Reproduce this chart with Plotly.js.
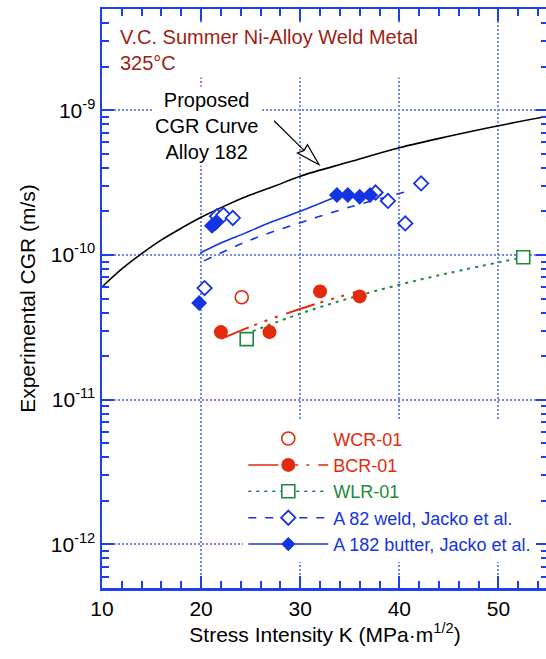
<!DOCTYPE html>
<html>
<head>
<meta charset="utf-8">
<script src="https://cdn.plot.ly/plotly-3.0.1.min.js"></script>
<style>
  html, body { margin: 0; padding: 0; overflow: hidden; background: #ffffff; }
  #chart { width: 548px; height: 659px; }
</style>
</head>
<body>
<div id="chart"></div>
<script>
// Proposed CGR curve for Alloy 182
const curveK   = [10, 12, 14, 16, 18, 20, 22.5, 25, 27.5, 30, 35, 40, 45, 50, 55];
const curveCGR = [6.0e-11, 8.0e-11, 1.02e-10, 1.27e-10, 1.53e-10, 1.82e-10, 2.2e-10,
                  2.6e-10, 3.0e-10, 3.5e-10, 4.4e-10, 5.5e-10, 6.6e-10, 7.8e-10, 9.1e-10];

// WCR-01
const wcrK   = [24.1];
const wcrCGR = [5.1e-11];

// BCR-01 tests and fit
const bcrK      = [22.0, 26.9, 32.0, 36.0];
const bcrCGR    = [2.93e-11, 2.93e-11, 5.6e-11, 5.17e-11];
const bcrFitK   = [22.0, 25.0, 28.0, 31.0, 34.0, 36.0];
const bcrFitCGR = [2.63e-11, 3.2e-11, 3.81e-11, 4.46e-11, 5.15e-11, 5.63e-11];

// WLR-01 tests and fit
const wlrK      = [24.6, 52.5];
const wlrCGR    = [2.62e-11, 9.64e-11];
const wlrFitK   = [25.2, 30, 35, 40, 45, 52.0];
const wlrFitCGR = [2.97e-11, 3.93e-11, 5.03e-11, 6.22e-11, 7.5e-11, 9.48e-11];

// Alloy 82 weld, Jacko et al.
const a82K      = [20.35, 21.6, 22.25, 23.2, 37.6, 38.85, 40.6, 42.2];
const a82CGR    = [5.9e-11, 1.85e-10, 1.89e-10, 1.8e-10, 2.7e-10, 2.36e-10, 1.65e-10, 3.12e-10];
const a82FitK   = [20.3, 25, 30, 35, 41];
const a82FitCGR = [9.1e-11, 1.27e-10, 1.67e-10, 2.14e-10, 2.77e-10];

// Alloy 182 butter, Jacko et al.
const a182K      = [19.8, 21.1, 21.45, 33.7, 34.8, 36.0, 37.05];
const a182CGR    = [4.65e-11, 1.59e-10, 1.66e-10, 2.59e-10, 2.59e-10, 2.52e-10, 2.59e-10];
const a182FitK   = [19.9, 22, 24.5, 27, 30, 34];
const a182FitCGR = [1.03e-10, 1.21e-10, 1.42e-10, 1.68e-10, 2.0e-10, 2.58e-10];

// Axis ticks
const xTicks     = [10, 20, 30, 40, 50];
const yTickVals  = [1e-12, 1e-11, 1e-10, 1e-9];
const yTickText  = ['10<sup>-12</sup>', '10<sup>-11</sup>', '10<sup>-10</sup>', '10<sup>-9</sup>'];

const RED = '#e42a0c', GREEN = '#1d8a3e', BLUE = '#1434e4', FRAME = '#1c3ff2', GRID = '#7389f0';
const bcrDash = '30px,6px,3px,8px,3px,8px,3px,9px';
const wlrDash = '3px,5px';
const a82Dash = '8px,9px';

const traces = [
  { x: curveK, y: curveCGR, mode: 'lines', line: { color: '#000', width: 1.6, shape: 'spline' }, showlegend: false },
  { x: bcrFitK, y: bcrFitCGR, mode: 'lines', line: { color: RED, width: 2, dash: bcrDash, shape: 'spline' }, showlegend: false },
  { x: wlrFitK, y: wlrFitCGR, mode: 'lines', line: { color: GREEN, width: 2, dash: wlrDash, shape: 'spline' }, showlegend: false },
  { x: a82FitK, y: a82FitCGR, mode: 'lines', line: { color: BLUE, width: 1.6, dash: a82Dash, shape: 'spline' }, showlegend: false },
  { x: a182FitK, y: a182FitCGR, mode: 'lines', line: { color: BLUE, width: 1.6, shape: 'spline' }, showlegend: false },
  { x: wcrK, y: wcrCGR, mode: 'markers', marker: { symbol: 'circle-open', size: 13, color: RED, line: { width: 1.6 } }, showlegend: false },
  { x: bcrK, y: bcrCGR, mode: 'markers', marker: { symbol: 'circle', size: 14, color: RED }, showlegend: false },
  { x: wlrK, y: wlrCGR, mode: 'markers', marker: { symbol: 'square', size: 13, color: '#fff', line: { color: GREEN, width: 1.6 } }, showlegend: false },
  { x: a82K, y: a82CGR, mode: 'markers', marker: { symbol: 'diamond', size: 11, color: '#fff', line: { color: BLUE, width: 1.8 } }, showlegend: false },
  { x: a182K, y: a182CGR, mode: 'markers', marker: { symbol: 'diamond', size: 11, color: BLUE, line: { color: BLUE, width: 1.2 } }, showlegend: false },

  // legend entries
  { x: [null], y: [null], mode: 'markers', name: '<span style="color:' + RED + '">WCR-01</span>',
    marker: { symbol: 'circle-open', size: 13, color: RED, line: { width: 1.6 } } },
  { x: [null], y: [null], mode: 'lines+markers', name: '<span style="color:' + RED + '">BCR-01</span>',
    line: { color: RED, width: 1.5, dash: bcrDash }, marker: { symbol: 'circle', size: 14, color: RED } },
  { x: [null], y: [null], mode: 'lines+markers', name: '<span style="color:' + GREEN + '">WLR-01</span>',
    line: { color: GREEN, width: 1.5, dash: wlrDash }, marker: { symbol: 'square', size: 13, color: '#fff', line: { color: GREEN, width: 1.6 } } },
  { x: [null], y: [null], mode: 'lines+markers', name: '<span style="color:' + BLUE + '">A 82 weld, Jacko et al.</span>',
    line: { color: BLUE, width: 1.5, dash: a82Dash }, marker: { symbol: 'diamond', size: 11, color: '#fff', line: { color: BLUE, width: 1.8 } } },
  { x: [null], y: [null], mode: 'lines+markers', name: '<span style="color:' + BLUE + '">A 182 butter, Jacko et al.</span>',
    line: { color: BLUE, width: 1.5 }, marker: { symbol: 'diamond', size: 11, color: BLUE } }
];

const layout = {
  width: 548, height: 659,
  margin: { l: 102, r: 0, t: 9, b: 71 },
  paper_bgcolor: '#fff', plot_bgcolor: '#fff',
  font: { family: 'Liberation Sans, Arial, sans-serif', size: 21, color: '#000' },
  showlegend: true,
  legend: {
    x: 0.3168, y: 0.2896, xanchor: 'left', yanchor: 'top',
    bgcolor: '#fff', borderwidth: 0, itemwidth: 80,
    font: { size: 18 }, tracegroupgap: 0
  },
  xaxis: {
    range: [10, 55], tickmode: 'array', tickvals: xTicks,
    ticks: 'inside', ticklen: 12, tickwidth: 2, tickcolor: FRAME,
    showline: true, linecolor: FRAME, linewidth: 2.5, mirror: 'ticks',
    showgrid: true, gridcolor: GRID, gridwidth: 2, griddash: '2px,2px', zeroline: false,
    minor: { ticks: 'inside', ticklen: 7, tickwidth: 2, tickcolor: FRAME, dtick: 2, tick0: 10, showgrid: false },
    tickfont: { size: 21 },
    title: { text: 'Stress Intensity K (MPa·m<sup>1/2</sup>)', font: { size: 21 }, standoff: 8 }
  },
  yaxis: {
    type: 'log', range: [-12.30103, -8.30103],
    tickmode: 'array', tickvals: yTickVals, ticktext: yTickText,
    ticks: 'inside', ticklen: 12, tickwidth: 2, tickcolor: FRAME,
    showline: true, linecolor: FRAME, linewidth: 2.5, mirror: 'ticks',
    showgrid: true, gridcolor: GRID, gridwidth: 2, griddash: '2px,2px', zeroline: false,
    minor: { tickmode: 'linear', dtick: 'D1', ticks: 'inside', ticklen: 7, tickwidth: 2, tickcolor: FRAME, showgrid: false },
    tickfont: { size: 21 },
    title: { text: 'Experimental CGR (m/s)', font: { size: 21 }, standoff: 10 }
  },
  annotations: [
    { xref: 'paper', yref: 'paper', x: 0.031, y: 0.978, xanchor: 'left', yanchor: 'top',
      text: 'V.C. Summer Ni-Alloy Weld Metal<br>325°C', align: 'left', showarrow: false,
      font: { size: 20, color: '#9c1f14' }, bgcolor: '#fff', borderpad: 3 },
    { xref: 'paper', yref: 'paper', x: 0.2354, y: 0.798, xanchor: 'center', yanchor: 'middle',
      text: 'Proposed<br>CGR Curve<br>Alloy 182', align: 'center', showarrow: false,
      font: { size: 20, color: '#000' }, bgcolor: '#fff', borderpad: 2 }
  ],
  shapes: [
    // arrow shaft
    { type: 'path', xref: 'x', yref: 'y', xsizemode: 'pixel', ysizemode: 'pixel',
      xanchor: 31.9, yanchor: 4.2e-10, path: 'M-15,14.3 L-45,44',
      line: { color: '#000', width: 1.2 } },
    // open arrow head
    { type: 'path', xref: 'x', yref: 'y', xsizemode: 'pixel', ysizemode: 'pixel',
      xanchor: 31.9, yanchor: 4.2e-10, path: 'M0,0 L-21.6,11.7 L-15,14.3 L-11.6,20 Z',
      fillcolor: '#fff', line: { color: '#000', width: 1.2 } }
  ]
};

Plotly.newPlot('chart', traces, layout, { staticPlot: true, displayModeBar: false });
</script>
</body>
</html>
